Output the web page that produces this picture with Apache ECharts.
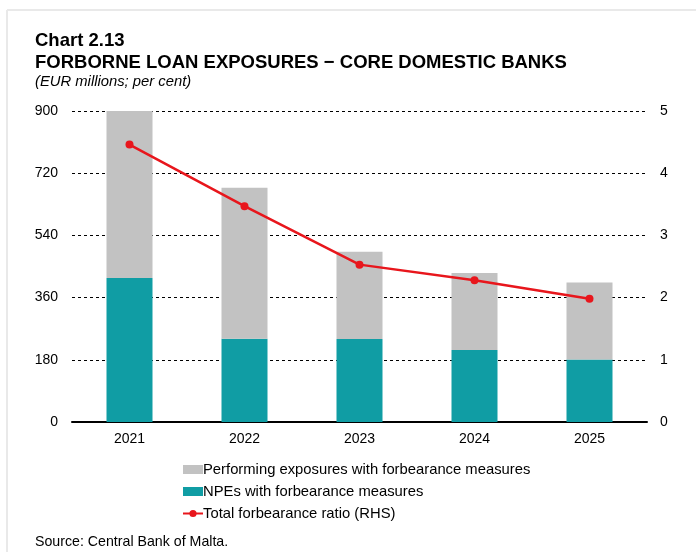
<!DOCTYPE html>
<html>
<head>
<meta charset="utf-8">
<script src="https://cdn.jsdelivr.net/npm/echarts@6/dist/echarts.min.js"></script>
<style>
  html, body { margin: 0; padding: 0; background: #fff; }
  #chart { width: 696px; height: 552px; }
</style>
</head>
<body>
<div id="chart"></div>
<script>
// Forborne loan exposures of the core domestic banks
const years = ['2021', '2022', '2023', '2024', '2025'];
const npes = [417, 241, 240, 208, 181];            // EUR millions
const performing = [483, 437, 253, 223, 223];      // EUR millions
const forbearanceRatio = [4.46, 3.47, 2.53, 2.28, 1.98]; // per cent (RHS)

const FONT = '"Liberation Sans", Arial, sans-serif';
const chart = echarts.init(document.getElementById('chart'), null, { renderer: 'canvas' });

chart.setOption({
  animation: false,
  backgroundColor: '#ffffff',
  textStyle: { fontFamily: FONT, color: '#000' },
  graphic: [
    { type: 'line', shape: { x1: 7, y1: 10, x2: 7, y2: 552 }, style: { stroke: '#e9e9e9', lineWidth: 2 } },
    { type: 'line', shape: { x1: 7, y1: 10, x2: 696, y2: 10 }, style: { stroke: '#e9e9e9', lineWidth: 2 } },
    { type: 'text', left: 35, top: 31, style: { text: 'Chart 2.13', font: 'bold 18.5px ' + FONT, fill: '#000' } },
    { type: 'text', left: 35, top: 53, style: { text: 'FORBORNE LOAN EXPOSURES \u2212 CORE DOMESTIC BANKS', font: 'bold 18.5px ' + FONT, fill: '#000' } },
    { type: 'text', left: 35, top: 74, style: { text: '(EUR millions; per cent)', font: 'italic 14.8px ' + FONT, fill: '#000' } },
    { type: 'text', left: 35, top: 535, style: { text: 'Source: Central Bank of Malta.', font: '14.2px ' + FONT, fill: '#000' } }
  ],
  grid: { left: 72, right: 49, top: 111, bottom: 130 },
  legend: {
    orient: 'vertical',
    left: 177,
    top: 457,
    itemGap: 7,
    itemWidth: 20,
    itemHeight: 9,
    textStyle: { fontSize: 14.8, fontFamily: FONT, color: '#000', padding: [0, 0, 0, -5] },
    data: [
      { name: 'Performing exposures with forbearance measures', icon: 'rect' },
      { name: 'NPEs with forbearance measures', icon: 'rect' },
      { name: 'Total forbearance ratio (RHS)' }
    ]
  },
  xAxis: {
    type: 'category',
    data: years,
    axisLine: { lineStyle: { color: '#000', width: 2 } },
    axisTick: { show: false },
    axisLabel: { fontSize: 14, color: '#000', margin: 10, fontFamily: FONT }
  },
  yAxis: [
    {
      type: 'value', min: 0, max: 900, interval: 180,
      axisLine: { show: false }, axisTick: { show: false },
      axisLabel: { fontSize: 14, color: '#000', margin: 14, fontFamily: FONT },
      splitLine: { lineStyle: { color: '#000', type: [3, 3], width: 1 } }
    },
    {
      type: 'value', min: 0, max: 5, interval: 1,
      axisLine: { show: false }, axisTick: { show: false },
      axisLabel: { fontSize: 14, color: '#000', margin: 13, fontFamily: FONT },
      splitLine: { show: false }
    }
  ],
  series: [
    {
      name: 'NPEs with forbearance measures',
      type: 'bar', stack: 'exp', data: npes, barWidth: 46,
      itemStyle: { color: '#109DA4' }
    },
    {
      name: 'Performing exposures with forbearance measures',
      type: 'bar', stack: 'exp', data: performing, barWidth: 46,
      itemStyle: { color: '#C2C2C2' }
    },
    {
      name: 'Total forbearance ratio (RHS)',
      type: 'line', yAxisIndex: 1, data: forbearanceRatio,
      symbol: 'circle', symbolSize: 8,
      lineStyle: { color: '#E8161C', width: 2.5 },
      itemStyle: { color: '#E8161C' }
    }
  ]
});
</script>
</body>
</html>
